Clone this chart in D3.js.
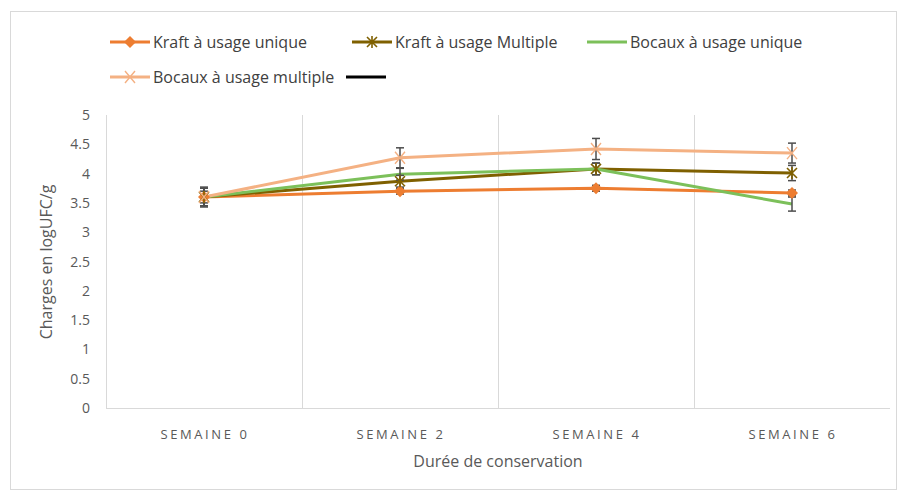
<!DOCTYPE html>
<meta charset="utf-8" />
<title>Charges en logUFC/g</title>
<style>
  body { margin: 0; background: #fff; font-family: "Open Sans", sans-serif; }
  svg { display: block; }
  .grid line { stroke: #d9d9d9; stroke-width: 1px; }
  .ytick text { fill: #595959; font-size: 14px; }
  .xtick text { fill: #595959; font-size: 13px; letter-spacing: 2.6px; }
  .legend text { fill: #404040; font-size: 16px; }
  .title { fill: #595959; font-size: 16px; }
  .err { stroke: #4d4d4d; stroke-width: 1.5px; fill: none; }
</style>
<svg width="898" height="491"></svg>

<script src="https://d3js.org/d3.v7.min.js"></script>
<script>
const weeks = ["SEMAINE 0", "SEMAINE 2", "SEMAINE 4", "SEMAINE 6"];
const yTicks = [0, 0.5, 1, 1.5, 2, 2.5, 3, 3.5, 4, 4.5, 5];

const kraftUnique = [3.6, 3.7, 3.75, 3.67];
const kraftMultiple = [3.6, 3.87, 4.08, 4.01];
const bocauxUnique = [3.6, 3.99, 4.08, 3.48];
const bocauxMultiple = [3.6, 4.27, 4.42, 4.35];

const errKraftUnique = [0.1, 0.05, 0.05, 0.05];
const errKraftMultiple = [0.15, 0.1, 0.1, 0.13];
const errBocauxUnique = [0.15, 0.1, 0.1, 0.12];
const errBocauxMultiple = [0.17, 0.17, 0.18, 0.17];

const series = [
  { name: "Kraft à usage unique", color: "#ed7d31", marker: "diamond", values: kraftUnique, err: errKraftUnique },
  { name: "Kraft à usage Multiple", color: "#7f6000", marker: "star", values: kraftMultiple, err: errKraftMultiple },
  { name: "Bocaux à usage unique", color: "#7cc05a", marker: "none", values: bocauxUnique, err: errBocauxUnique },
  { name: "Bocaux à usage multiple", color: "#f4b183", marker: "x", values: bocauxMultiple, err: errBocauxMultiple }
];

const svg = d3.select("svg");

// outer frame
svg.append("rect")
  .attr("x", 10.5).attr("y", 11.5)
  .attr("width", 886).attr("height", 478)
  .attr("fill", "#fff").attr("stroke", "#d9d9d9");

const x = d3.scaleBand().domain(weeks).range([106, 890]);
const y = d3.scaleLinear().domain([0, 5]).range([408, 115]);

// vertical grid lines at category boundaries
const grid = svg.append("g").attr("class", "grid");
grid.selectAll("line")
  .data(weeks)
  .enter().append("line")
  .attr("x1", d => x(d) + 0.5).attr("x2", d => x(d) + 0.5)
  .attr("y1", y(5)).attr("y2", y(0));
grid.append("line")
  .attr("x1", x.range()[0]).attr("x2", x.range()[1])
  .attr("y1", y(0) + 0.5).attr("y2", y(0) + 0.5);

// y tick labels
svg.append("g").attr("class", "ytick")
  .selectAll("text")
  .data(yTicks)
  .enter().append("text")
  .attr("x", 90).attr("y", d => y(d) + 5)
  .attr("text-anchor", "end")
  .text(d => d);

// x tick labels
svg.append("g").attr("class", "xtick")
  .selectAll("text")
  .data(weeks)
  .enter().append("text")
  .attr("x", d => x(d) + x.bandwidth() / 2 + 1)
  .attr("y", 439)
  .attr("text-anchor", "middle")
  .text(d => d);

svg.append("text").attr("class", "title")
  .attr("x", 498).attr("y", 467)
  .attr("text-anchor", "middle")
  .text("Durée de conservation");

svg.append("text").attr("class", "title")
  .attr("transform", "translate(52,262) rotate(-90)")
  .attr("text-anchor", "middle")
  .text("Charges en logUFC/g");

const cx = i => x(weeks[i]) + x.bandwidth() / 2;

const line = d3.line()
  .x((d, i) => cx(i))
  .y(d => y(d));

function drawMarker(g, type, color) {
  if (type === "diamond") {
    g.append("path").attr("d", "M0,-6L6,0L0,6L-6,0Z").attr("fill", color);
  } else if (type === "star") {
    g.append("path").attr("d", "M-5,-5L5,5M-5,5L5,-5M0,-6L0,6")
      .attr("stroke", color).attr("stroke-width", 1.6).attr("fill", "none");
  } else if (type === "x") {
    g.append("path").attr("d", "M-5,-6L5,6M-5,6L5,-6")
      .attr("stroke", color).attr("stroke-width", 1.4).attr("fill", "none");
  }
}

// lines
series.forEach(s => {
  svg.append("path")
    .datum(s.values)
    .attr("fill", "none")
    .attr("stroke", s.color)
    .attr("stroke-width", 3)
    .attr("stroke-linejoin", "round")
    .attr("d", line);
});

// error bars
series.forEach(s => {
  const eb = svg.append("g").attr("class", "err");
  s.values.forEach((v, i) => {
    const top = y(v + s.err[i]), bot = y(v - s.err[i]);
    eb.append("line").attr("x1", cx(i)).attr("x2", cx(i)).attr("y1", top).attr("y2", bot);
    eb.append("line").attr("x1", cx(i) - 4).attr("x2", cx(i) + 4).attr("y1", top).attr("y2", top);
    eb.append("line").attr("x1", cx(i) - 4).attr("x2", cx(i) + 4).attr("y1", bot).attr("y2", bot);
  });
});

// markers
series.forEach(s => {
  s.values.forEach((v, i) => {
    const g = svg.append("g").attr("transform", `translate(${cx(i)},${y(v)})`);
    drawMarker(g, s.marker, s.color);
  });
});

// legend
const legendPos = [
  { x: 110, y: 42 }, { x: 352, y: 42 }, { x: 587, y: 42 }, { x: 110, y: 77 }
];
const legend = svg.append("g").attr("class", "legend");
series.forEach((s, i) => {
  const p = legendPos[i];
  const g = legend.append("g").attr("transform", `translate(${p.x},${p.y})`);
  g.append("line").attr("x1", 0).attr("x2", 40).attr("y1", 0).attr("y2", 0)
    .attr("stroke", s.color).attr("stroke-width", 3);
  const m = g.append("g").attr("transform", "translate(20,0)");
  drawMarker(m, s.marker, s.color);
  g.append("text").attr("x", 43).attr("y", 5.5).text(s.name);
});
legend.append("line")
  .attr("x1", 346).attr("x2", 386).attr("y1", 77).attr("y2", 77)
  .attr("stroke", "#000").attr("stroke-width", 3);
</script>
